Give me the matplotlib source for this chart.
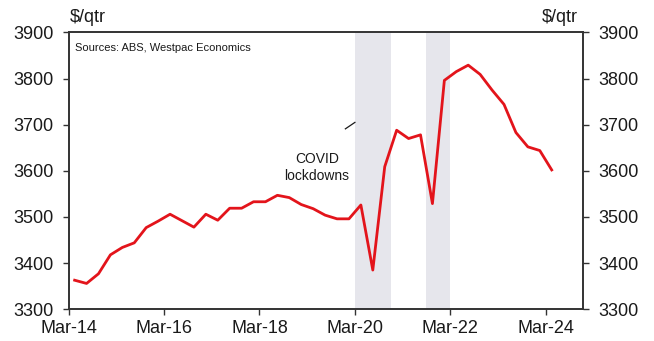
import matplotlib
matplotlib.use("Agg")
import matplotlib.pyplot as plt

plt.rcParams["font.family"] = ["Liberation Sans", "DejaVu Sans"]

# quarterly values, Mar-14 .. Mar-24
values = [3363, 3356, 3377, 3418, 3434, 3444, 3477, 3491, 3506, 3492,
          3478, 3506, 3493, 3519, 3519, 3533, 3533, 3547, 3542, 3527,
          3518, 3504, 3496, 3496, 3526, 3385, 3609, 3688, 3670, 3678,
          3529, 3796, 3815, 3829, 3809, 3775, 3744, 3683, 3652, 3644,
          3602]
tick_labels = ["Mar-14", "Mar-16", "Mar-18", "Mar-20", "Mar-22", "Mar-24"]
# lockdown periods as (first quarter index, last quarter index)
lockdowns = [(24, 26), (30, 31)]

x = list(range(len(values)))
tick_pos = [i * 8 - 0.5 for i in range(len(tick_labels))]

fig = plt.figure(figsize=(6.54, 3.41), dpi=100)
ax = fig.add_axes([0.105, 0.093, 0.786, 0.812])

for a, b in lockdowns:
    ax.axvspan(a - 0.5, b + 0.5, color="#e6e6ec", lw=0, zorder=0)

ax.plot(x, values, color="#e3141b", lw=2, zorder=3)

ax.set_xlim(-0.5, 42.6)
ax.set_ylim(3300, 3900)
ax.set_xticks(tick_pos)
ax.set_xticklabels(tick_labels)
ax.set_yticks(range(3300, 3901, 100))

ax2 = ax.twinx()
ax2.set_ylim(3300, 3900)
ax2.set_yticks(range(3300, 3901, 100))

for a in (ax, ax2):
    for s in a.spines.values():
        s.set_color("#333333")
        s.set_linewidth(1.2)
    a.tick_params(direction="out", length=4, width=1, color="#333333",
                  labelsize=13, labelcolor="#1a1a1a", pad=7)
ax.tick_params(axis="x", pad=4)

ax.text(0.012, 0.962, "Sources: ABS, Westpac Economics", transform=ax.transAxes,
        fontsize=8, va="top", ha="left", color="#1a1a1a")
ax.text(20.3, 3607, "COVID\nlockdowns", ha="center", va="center",
        fontsize=10, color="#1a1a1a", linespacing=1.3)
ax.plot([22.7, 23.5], [3691, 3705], color="#1a1a1a", lw=0.9)

fig.text(70 / 654, 1 - 18 / 341, "$/qtr", fontsize=13, va="center", ha="left",
         color="#1a1a1a")
fig.text(578 / 654, 1 - 18 / 341, "$/qtr", fontsize=13, va="center", ha="right",
         color="#1a1a1a")

fig.savefig("out.png", dpi=100)
